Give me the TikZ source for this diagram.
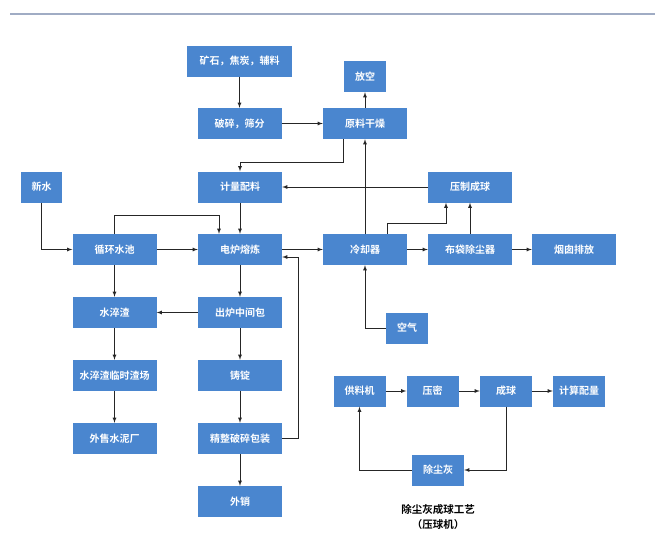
\documentclass[tikz,border=0pt]{standalone}
\usepackage{fontspec}
\setmainfont{Noto Sans CJK SC}[BoldFont={Noto Sans CJK SC Bold}]
\usepackage{xcolor}
\usepackage{tikz}
\definecolor{boxblue}{RGB}{74,134,207}
\definecolor{topline}{RGB}{160,172,196}

\begin{document}
\begin{tikzpicture}[x=1pt, y=-1pt]
			\tikzstyle{every node}=[font=\fontsize{10}{12}\selectfont\bfseries];
			\tikzstyle{box}=[fill=boxblue, text=white, minimum width=84pt, minimum height=31pt, inner sep=1pt];
			\tikzstyle{smallbox}=[box, minimum width=52pt];
			\tikzstyle{arr}=[black!85, line width=0.8pt, -latex];
			\useasboundingbox (0,0) rectangle (655,533);
			
			%Header rule
			\draw[topline, line width=2pt] (10,14) -- (655,14);
			
			%Raw material
			\node[box, minimum width=105pt] (ore) at (239.5,61) {矿石，焦炭，辅料};
			\node[box] (crush) at (239.5,123.5) {破碎，筛分};
			\node[box, minimum width=42pt] (vent) at (365,76.5) {放空};
			\node[box] (dry) at (365,123.5) {原料干燥};
			\node[box] (batch) at (240,187) {计量配料};
			\node[box] (press) at (470,187) {压制成球};
			
			%Smelting line
			\node[box, minimum width=41pt] (water) at (41.5,187) {新水};
			\node[box] (pool) at (114.5,249.5) {循环水池};
			\node[box] (furnace) at (240,249.5) {电炉熔炼};
			\node[box] (cooler) at (365,249.5) {冷却器};
			\node[box] (bag) at (470,249.5) {布袋除尘器};
			\node[box] (stack) at (574,249.5) {烟囱排放};
			\node[box] (slag) at (114.5,312.5) {水淬渣};
			\node[box] (ladle) at (240,312.5) {出炉中间包};
			\node[box, minimum width=42pt] (air) at (407,328) {空气};
			\node[box] (yard) at (114.5,375.5) {水淬渣临时渣场};
			\node[box] (ingot) at (240,375.5) {铸锭};
			\node[box] (cement) at (114.5,438.5) {外售水泥厂};
			\node[box] (pack) at (240,438.5) {精整破碎包装};
			\node[box] (sale) at (240,501.5) {外销};
			
			%Briquetting
			\node[smallbox] (feeder) at (359.5,391) {供料机};
			\node[smallbox] (compact) at (432.5,391) {压密};
			\node[smallbox] (ball) at (506,391) {成球};
			\node[smallbox] (dose) at (579,391) {计算配量};
			\node[smallbox] (dust) at (438,470) {除尘灰};
			\node[align=center, font=\fontsize{10.5}{15}\selectfont\bfseries] (caption) at (438,517) {除尘灰成球工艺\\（压球机）};
			
			%Connectors, top
			\draw[arr] (ore) -- (crush);
			\draw[arr] (crush) -- (dry);
			\draw[arr] (dry) -- (vent);
			\draw[arr] ([xshift=-22pt]dry.south) -- ++(0,23) -| (batch.north);
			\draw[arr] (press) -- (batch);
			\draw[arr] (cooler) -- (dry);
			\draw[arr] ([xshift=22pt]cooler.north) -- ++(0,-10) -| ([xshift=-24pt]press.south);
			\draw[arr] (bag) -- (press);
			
			%Connectors, middle
			\draw[arr] (water.south) |- (pool.west);
			\draw[arr] (pool) -- (furnace);
			\draw[arr] (pool.north) -- ++(0,-18) -| ([xshift=-21pt]furnace.north);
			\draw[arr] (batch) -- (furnace);
			\draw[arr] (furnace) -- (cooler);
			\draw[arr] (cooler) -- (bag);
			\draw[arr] (bag) -- (stack);
			\draw[arr] (air.west) -| (cooler.south);
			\draw[arr] (pack.east) -- ++(16,0) |- ([yshift=-7.5pt]furnace.east);
			
			%Connectors, slag and product
			\draw[arr] (furnace) -- (ladle);
			\draw[arr] (ladle) -- (slag);
			\draw[arr] (pool) -- (slag);
			\draw[arr] (slag) -- (yard);
			\draw[arr] (yard) -- (cement);
			\draw[arr] (ladle) -- (ingot);
			\draw[arr] (ingot) -- (pack);
			\draw[arr] (pack) -- (sale);
			
			%Connectors, briquetting
			\draw[arr] (feeder) -- (compact);
			\draw[arr] (compact) -- (ball);
			\draw[arr] (ball) -- (dose);
			\draw[arr] (ball.south) |- (dust.east);
			\draw[arr] (dust.west) -| (feeder.south);
\end{tikzpicture}
\end{document}
